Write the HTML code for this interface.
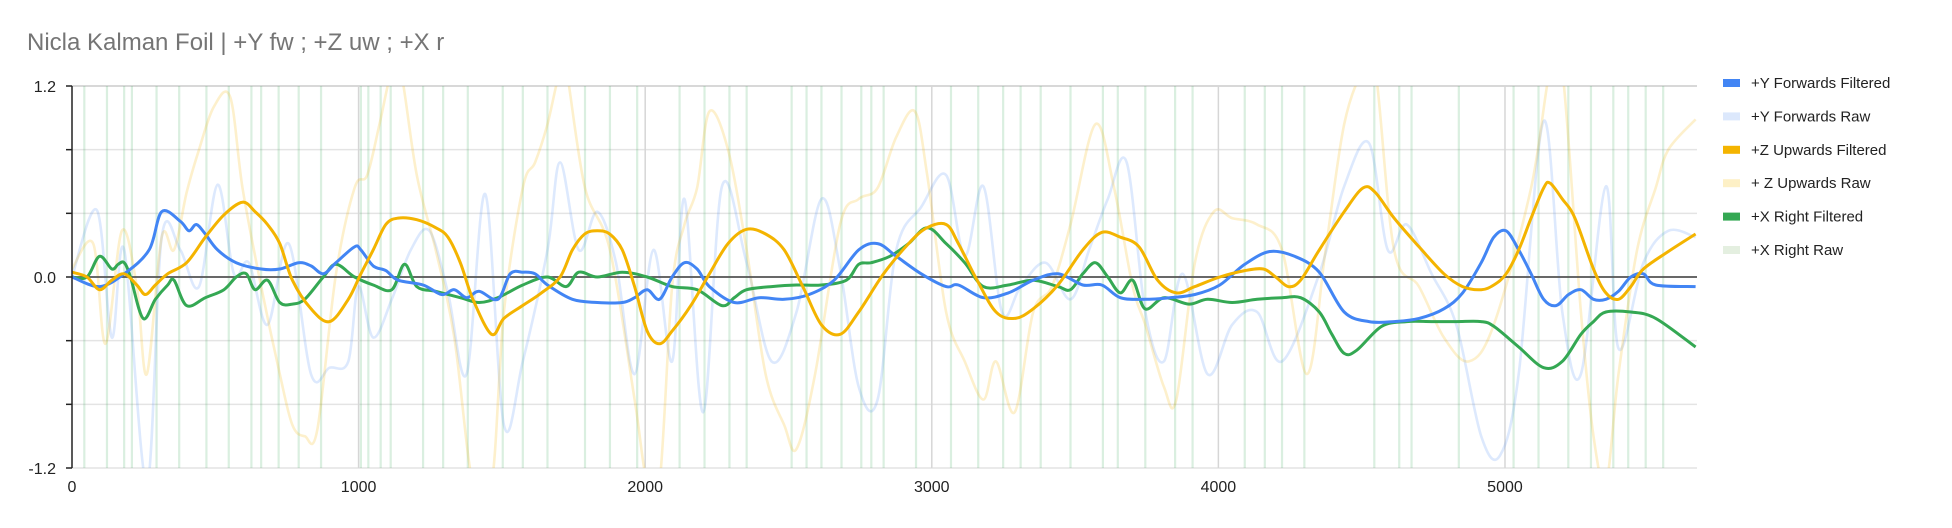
<!DOCTYPE html>
<html><head><meta charset="utf-8"><style>
html,body{margin:0;padding:0;background:#fff;}
svg{display:block;font-family:"Liberation Sans",Arial,sans-serif;}
</style></head><body>
<svg id="chart" width="1952" height="528" viewBox="0 0 1952 528" xmlns="http://www.w3.org/2000/svg">
<text x="27" y="50" font-size="24" fill="#757575">Nicla Kalman Foil | +Y  fw ; +Z uw ; +X r</text>
<defs><clipPath id="plotclip"><rect x="72" y="86" width="1625" height="382"/></clipPath></defs>
<g id="grid"></g>
<g id="rawx" clip-path="url(#plotclip)"></g>
<g id="series" clip-path="url(#plotclip)"></g>
<g id="axes"></g>
<g id="legend"></g>
</svg>
<script>
const xTicks=[0,1000,2000,3000,4000,5000];
const yGrid=[1.2,0.8,0.4,0,-0.4,-0.8,-1.2];
const yLabels=[1.2,0,-1.2];
const blueX=[0,96,182,269,313,378,408,434,465,508,573,660,725,791,834,877,921,986,1008,1051,1095,1138,1225,1290,1334,1377,1420,1486,1529,1573,1616,1659,1746,1833,1920,1963,2007,2050,2094,2137,2181,2224,2311,2398,2485,2572,2659,2745,2811,2876,2963,3050,3093,3180,3267,3354,3440,3527,3593,3658,3744,3831,3918,4005,4092,4179,4266,4352,4439,4526,4613,4700,4787,4852,4917,4961,5004,5048,5091,5135,5178,5222,5265,5309,5352,5396,5439,5483,5526,5665];
const blueY=[0,-0.06,0.02,0.17,0.41,0.35,0.29,0.33,0.27,0.17,0.09,0.05,0.05,0.09,0.07,0.02,0.09,0.19,0.17,0.07,0.04,-0.02,-0.05,-0.11,-0.08,-0.13,-0.09,-0.14,0.02,0.03,0.02,-0.05,-0.14,-0.16,-0.16,-0.13,-0.08,-0.14,0,0.09,0.05,-0.06,-0.16,-0.13,-0.14,-0.11,-0.02,0.17,0.21,0.13,0.02,-0.06,-0.05,-0.13,-0.10,-0.02,0.02,-0.05,-0.05,-0.13,-0.14,-0.13,-0.11,-0.05,0.08,0.16,0.13,0.03,-0.22,-0.28,-0.28,-0.26,-0.20,-0.10,0.09,0.25,0.29,0.17,0.02,-0.14,-0.18,-0.11,-0.08,-0.14,-0.14,-0.09,0,0.02,-0.05,-0.06];
const yellowX=[0,52,96,139,182,226,256,291,334,400,465,530,595,639,682,725,769,834,899,964,1008,1051,1095,1138,1203,1269,1312,1355,1399,1464,1507,1572,1638,1703,1746,1789,1833,1876,1920,1963,2007,2050,2094,2159,2224,2289,2354,2420,2485,2550,2615,2680,2745,2832,2919,2984,3050,3093,3158,3224,3289,3354,3440,3527,3593,3658,3723,3788,3853,3918,4005,4092,4157,4200,4244,4287,4352,4439,4505,4548,4613,4700,4787,4852,4917,4961,5004,5048,5091,5135,5157,5200,5244,5309,5352,5396,5439,5483,5570,5665];
const yellowY=[0.03,0,-0.08,-0.02,0.02,-0.05,-0.11,-0.05,0.02,0.09,0.25,0.39,0.47,0.41,0.33,0.21,-0.02,-0.20,-0.28,-0.14,0.02,0.17,0.33,0.37,0.36,0.31,0.25,0.09,-0.14,-0.36,-0.26,-0.18,-0.10,0,0.17,0.27,0.29,0.27,0.17,-0.06,-0.34,-0.42,-0.34,-0.18,0.02,0.21,0.30,0.27,0.17,-0.06,-0.30,-0.36,-0.22,0.02,0.21,0.31,0.33,0.21,-0.02,-0.22,-0.26,-0.20,-0.05,0.17,0.28,0.25,0.19,-0.02,-0.10,-0.06,0,0.04,0.05,0,-0.06,-0.02,0.17,0.41,0.56,0.53,0.37,0.19,0.02,-0.06,-0.08,-0.05,0.02,0.17,0.37,0.56,0.59,0.49,0.37,0.05,-0.10,-0.14,-0.06,0.05,0.16,0.27];
const greenX=[0,52,96,139,161,182,204,248,291,334,356,400,465,530,573,608,639,682,725,769,812,877,921,986,1051,1116,1160,1203,1269,1355,1420,1486,1573,1659,1724,1768,1833,1920,2007,2094,2181,2268,2311,2354,2441,2528,2615,2702,2745,2789,2854,2919,2984,3050,3115,3180,3267,3354,3440,3484,3527,3571,3614,3658,3701,3744,3810,3897,3962,4048,4135,4222,4287,4352,4396,4439,4483,4570,4657,4744,4830,4917,4961,5048,5135,5200,5265,5309,5352,5439,5526,5665];
const greenY=[0,0,0.13,0.05,0.08,0.09,0,-0.26,-0.14,-0.05,-0.02,-0.18,-0.13,-0.08,0,0.02,-0.08,-0.02,-0.16,-0.17,-0.14,0,0.08,0,-0.05,-0.08,0.08,-0.06,-0.09,-0.13,-0.16,-0.13,-0.05,0,-0.06,0.03,0,0.03,0,-0.06,-0.08,-0.18,-0.13,-0.08,-0.06,-0.05,-0.05,-0.02,0.08,0.09,0.13,0.21,0.31,0.21,0.09,-0.06,-0.05,-0.02,-0.06,-0.08,0.02,0.09,0,-0.10,-0.02,-0.20,-0.13,-0.17,-0.14,-0.16,-0.14,-0.13,-0.13,-0.22,-0.36,-0.48,-0.46,-0.31,-0.28,-0.28,-0.28,-0.28,-0.31,-0.44,-0.57,-0.53,-0.36,-0.28,-0.22,-0.22,-0.26,-0.44];
const blueRawX=[0,87,139,182,261,313,378,443,508,565,617,682,756,834,899,964,999,1051,1116,1182,1247,1312,1377,1442,1507,1573,1659,1703,1768,1833,1898,1963,2029,2094,2137,2202,2268,2354,2441,2528,2615,2680,2745,2811,2876,2963,3050,3115,3180,3245,3310,3397,3484,3549,3614,3680,3745,3810,3875,3962,4048,4135,4222,4352,4439,4526,4591,4657,4744,4830,4917,4983,5048,5135,5200,5265,5352,5396,5483,5570,5665];
const blueRawY=[0,0.42,-0.38,0.17,-1.3,0.25,0.17,-0.06,0.58,0.02,0.09,-0.30,0.21,-0.61,-0.57,-0.53,-0.06,-0.38,-0.14,0.17,0.29,-0.10,-0.61,0.52,-0.93,-0.53,0.17,0.72,0.17,0.41,0.09,-0.61,0.17,-0.53,0.49,-0.85,0.57,0.09,-0.53,-0.22,0.49,0.05,-0.69,-0.77,0.17,0.44,0.64,0.13,0.57,-0.22,-0.06,0.09,-0.14,0.17,0.49,0.72,-0.22,-0.53,0.02,-0.61,-0.30,-0.22,-0.53,0.02,0.57,0.84,0.17,0.33,0.02,-0.30,-1.0,-1.12,-0.61,0.98,-0.22,-0.61,0.57,-0.45,0.09,0.29,0.25];
const yellowRawX=[0,74,117,174,226,261,313,356,400,443,495,552,595,660,725,769,812,856,921,986,1030,1073,1116,1147,1203,1269,1334,1399,1464,1507,1573,1616,1659,1703,1725,1790,1877,1963,2007,2050,2094,2137,2181,2224,2289,2354,2420,2485,2528,2593,2680,2745,2811,2876,2941,2984,3050,3115,3180,3224,3289,3354,3419,3484,3571,3636,3701,3745,3810,3853,3918,3984,4048,4135,4222,4309,4374,4439,4505,4548,4613,4700,4787,4874,4961,5091,5157,5200,5265,5309,5352,5396,5461,5526,5570,5665];
const yellowRawY=[0.05,0.21,-0.42,0.29,-0.06,-0.61,0.25,0.17,0.53,0.80,1.07,1.13,0.56,-0.06,-0.61,-0.93,-1.0,-0.96,0.02,0.56,0.64,0.96,1.3,1.3,0.64,0.17,-0.38,-1.3,-1.3,-0.22,0.56,0.72,0.96,1.3,1.3,0.56,0.17,-0.77,-1.3,-1.3,-0.06,0.33,0.56,1.04,0.80,0.17,-0.61,-0.93,-1.08,-0.61,0.33,0.49,0.56,0.88,1.04,0.64,-0.22,-0.53,-0.77,-0.53,-0.85,-0.22,-0.06,0.33,0.96,0.56,-0.06,-0.30,-0.69,-0.77,0.09,0.41,0.37,0.33,0.17,-0.61,0.17,0.96,1.3,1.3,0.17,-0.06,-0.38,-0.53,-0.30,0.56,1.3,1.3,-0.22,-1.0,-1.3,-0.61,0.17,0.56,0.80,0.99];
const xRawSpikes=[43,122,182,209,295,374,469,547,626,660,721,791,869,1008,1034,1077,1112,1225,1295,1381,1503,1573,1659,1790,1877,1972,2120,2207,2294,2354,2511,2563,2615,2685,2754,2789,2832,2945,3067,3162,3249,3310,3380,3484,3597,3649,3745,3849,3910,4092,4162,4222,4300,4544,4631,4674,4839,5030,5117,5221,5300,5378,5430,5491,5552];

const NS="http://www.w3.org/2000/svg";
const L=72,R=1697,T=86,B=468,XMAX=5670,YMAX=1.2,YMIN=-1.2;
function sx(v){return L+(v/XMAX)*(R-L);}
function sy(v){return T+(YMAX-v)/(YMAX-YMIN)*(B-T);}
function mk(tag,attrs,parent){const e=document.createElementNS(NS,tag);for(const k in attrs)e.setAttribute(k,attrs[k]);parent.appendChild(e);return e;}
function smoothPath(xs,ys){
  const p=xs.map((x,i)=>[sx(x),sy(ys[i])]);
  let d="M"+p[0][0].toFixed(1)+","+p[0][1].toFixed(1);
  for(let i=0;i<p.length-1;i++){
    const p0=p[i-1]||p[i],p1=p[i],p2=p[i+1],p3=p[i+2]||p2;
    const c1=[p1[0]+(p2[0]-p0[0])/6,p1[1]+(p2[1]-p0[1])/6];
    const c2=[p2[0]-(p3[0]-p1[0])/6,p2[1]-(p3[1]-p1[1])/6];
    d+="C"+c1[0].toFixed(1)+","+c1[1].toFixed(1)+" "+c2[0].toFixed(1)+","+c2[1].toFixed(1)+" "+p2[0].toFixed(1)+","+p2[1].toFixed(1);
  }
  return d;
}
const grid=document.getElementById('grid');
yGrid.forEach(v=>{
  const ln=mk('line',{x1:L,x2:R,y1:sy(v),y2:sy(v),stroke:v===1.2?'#cccccc':'#e4e4e4','stroke-width':1.5},grid);
  
  
});
xTicks.forEach(v=>{
  if(v===0)return;
  const ln=mk('line',{x1:sx(v),x2:sx(v),y1:T,y2:B,stroke:'#d6d6d6','stroke-width':1.5},grid);
  
  
});
const rawx=document.getElementById('rawx');
xRawSpikes.forEach(v=>{
  const ln=mk('line',{x1:sx(v),x2:sx(v),y1:T,y2:B,stroke:'#34a853','stroke-opacity':0.18,'stroke-width':2.2},rawx);
  
  
});
const ser=document.getElementById('series');
const defs=[
 [blueRawX,blueRawY,'#4285f4',0.18,2.6,'y-forwards-raw-line'],
 [yellowRawX,yellowRawY,'#f4b400',0.2,2.6,'z-upwards-raw-line'],
];
defs.forEach(s=>{
  const p=mk('path',{d:smoothPath(s[0],s[1]),fill:'none',stroke:s[2],'stroke-opacity':s[3],'stroke-width':s[4]},ser);
  
  
});
const zl=mk('line',{x1:L,x2:R,y1:sy(0),y2:sy(0),stroke:'#555','stroke-width':1.8},ser);


const fdefs=[
 [greenX,greenY,'#34a853','x-right-filtered-line'],
 [blueX,blueY,'#4285f4','y-forwards-filtered-line'],
 [yellowX,yellowY,'#f4b400','z-upwards-filtered-line'],
];
fdefs.forEach(s=>{
  const p=mk('path',{d:smoothPath(s[0],s[1]),fill:'none',stroke:s[2],'stroke-width':3,'stroke-linejoin':'round'},ser);
  
  
});
const axes=document.getElementById('axes');
const ya=mk('line',{x1:L,x2:L,y1:T,y2:B,stroke:'#222','stroke-width':1.5},axes);


yGrid.forEach(v=>{
  const t=mk('line',{x1:L-6,x2:L,y1:sy(v),y2:sy(v),stroke:'#222','stroke-width':1.5},axes);
  
  
});
yLabels.forEach(v=>{
  const t=mk('text',{x:L-16,y:sy(v)+6,'text-anchor':'end','font-size':16,fill:'#222'},axes);
  t.textContent=v.toFixed(1);
  
  
});
xTicks.forEach(v=>{
  const t=mk('text',{x:sx(v),y:B+24,'text-anchor':'middle','font-size':16,fill:'#222'},axes);
  t.textContent=String(v);
  
  
});
const legendNames=['+Y Forwards Filtered','+Y Forwards Raw','+Z Upwards Filtered','+ Z Upwards Raw','+X Right Filtered','+X Right Raw'];
const legendColors=['#4285f4','#dce8fc','#f4b400','#fdf0c6','#34a853','#e4efe0'];
const lg=document.getElementById('legend');
legendNames.forEach((n,i)=>{
  const y=83+i*33.4;
  const g=mk('g',{},lg);
  
  
  mk('rect',{x:1723,y:y-4,width:17,height:8,fill:legendColors[i]},g);
  const t=mk('text',{x:1751,y:y+5,'font-size':15,fill:'#222'},g);
  t.textContent=n;
});
</script>
</body></html>
